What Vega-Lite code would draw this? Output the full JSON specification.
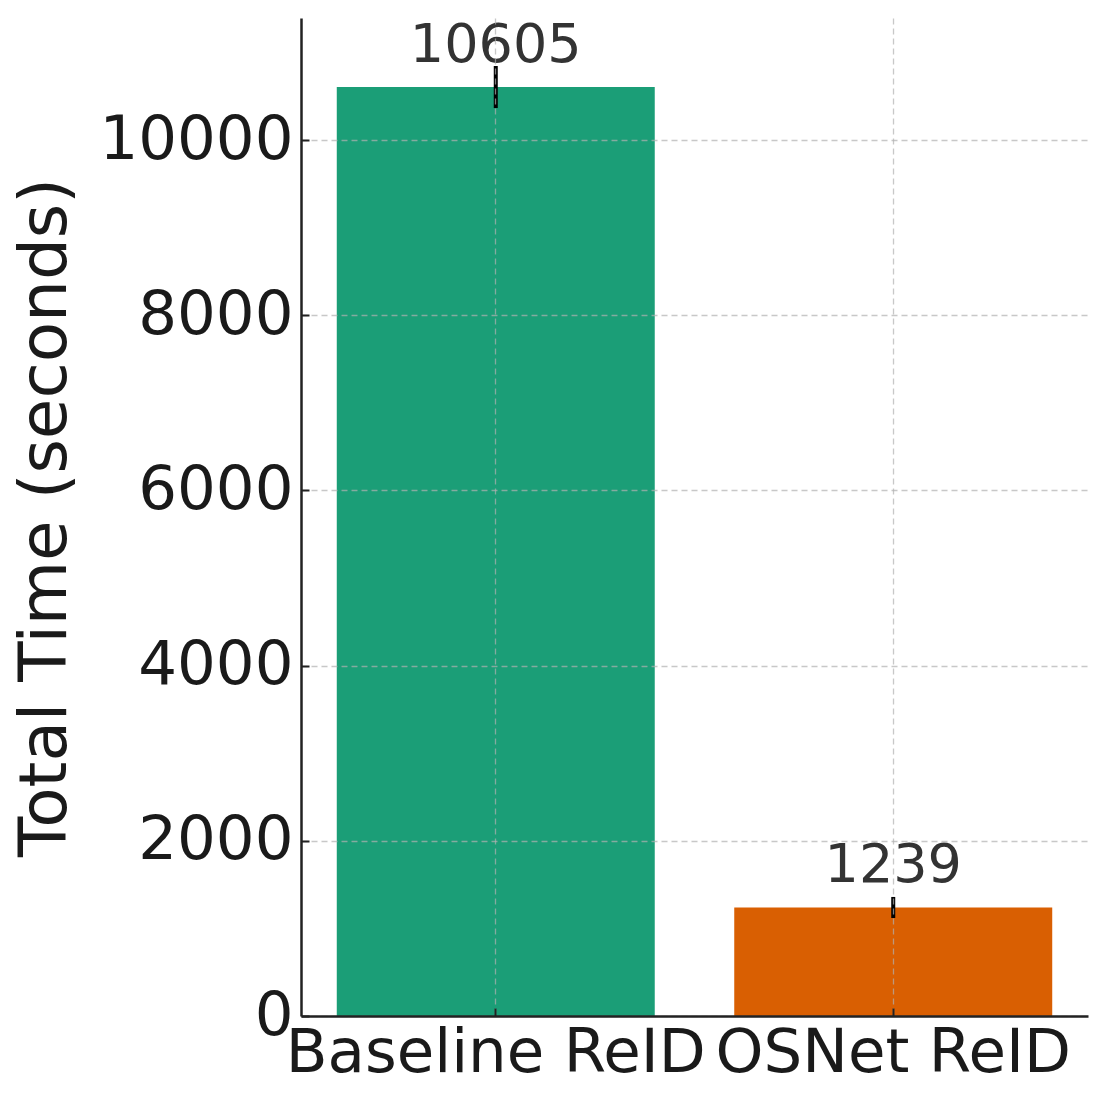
{
  "$schema": "https://vega.github.io/schema/vega-lite/v6.json",
  "autosize": {"type": "none"},
  "width": 787,
  "height": 998,
  "padding": {"left": 301, "top": 18, "right": 19, "bottom": 89},
  "background": "white",
  "config": {
    "view": {"stroke": null},
    "font": "DejaVu Sans"
  },
  "data": {
    "values": [
      {"model": "Baseline ReID", "time": 10605, "lo": 10365, "hi": 10845},
      {"model": "OSNet ReID", "time": 1239, "lo": 1119, "hi": 1359}
    ]
  },
  "encoding": {
    "x": {
      "field": "model",
      "type": "nominal",
      "sort": null,
      "scale": {"paddingInner": 0.2, "paddingOuter": 0.09},
      "axis": {
        "title": null,
        "labelAngle": 0,
        "labelFont": "DejaVu Sans",
        "labelFontSize": 61,
        "labelLimit": 0,
        "labelColor": "#1a1a1a",
        "labelPadding": 15,
        "domainColor": "#222222",
        "domainWidth": 2.5,
        "tickColor": "#222222",
        "tickSize": -8,
        "tickWidth": 2,
        "grid": true,
        "gridColor": "#b0b0b0",
        "gridOpacity": 0.7,
        "gridDash": [6, 4],
        "gridWidth": 1.3,
        "zindex": 1
      }
    }
  },
  "layer": [
    {
      "mark": {"type": "bar"},
      "encoding": {
        "y": {
          "field": "time",
          "type": "quantitative",
          "scale": {"domain": [0, 11393], "nice": false},
          "axis": {
            "title": "Total Time (seconds)",
            "titleFont": "DejaVu Sans",
            "titleFontSize": 66,
            "titleFontWeight": "normal",
            "titleColor": "#1a1a1a",
            "titlePadding": 22,
            "values": [0, 2000, 4000, 6000, 8000, 10000],
            "format": "d",
            "labelFont": "DejaVu Sans",
            "labelFontSize": 61,
            "labelLimit": 0,
            "labelColor": "#1a1a1a",
            "labelPadding": 16,
            "domainColor": "#222222",
            "domainWidth": 2.5,
            "tickColor": "#222222",
            "tickSize": -8,
            "tickWidth": 2,
            "grid": true,
            "gridColor": "#b0b0b0",
            "gridOpacity": 0.7,
            "gridDash": [6, 4],
            "gridWidth": 1.3,
            "zindex": 1
          }
        },
        "color": {
          "field": "model",
          "type": "nominal",
          "scale": {"domain": ["Baseline ReID", "OSNet ReID"], "range": ["#1b9e77", "#d95f02"]},
          "legend": null
        }
      }
    },
    {
      "mark": {"type": "rule", "color": "black", "strokeWidth": 4},
      "encoding": {
        "y": {"field": "lo", "type": "quantitative"},
        "y2": {"field": "hi"}
      }
    },
    {
      "mark": {"type": "text", "baseline": "alphabetic", "align": "center", "dy": -25, "fontSize": 54, "color": "#333333", "font": "DejaVu Sans"},
      "encoding": {
        "y": {"field": "time", "type": "quantitative"},
        "text": {"field": "time", "type": "quantitative", "format": "d"}
      }
    }
  ]
}
